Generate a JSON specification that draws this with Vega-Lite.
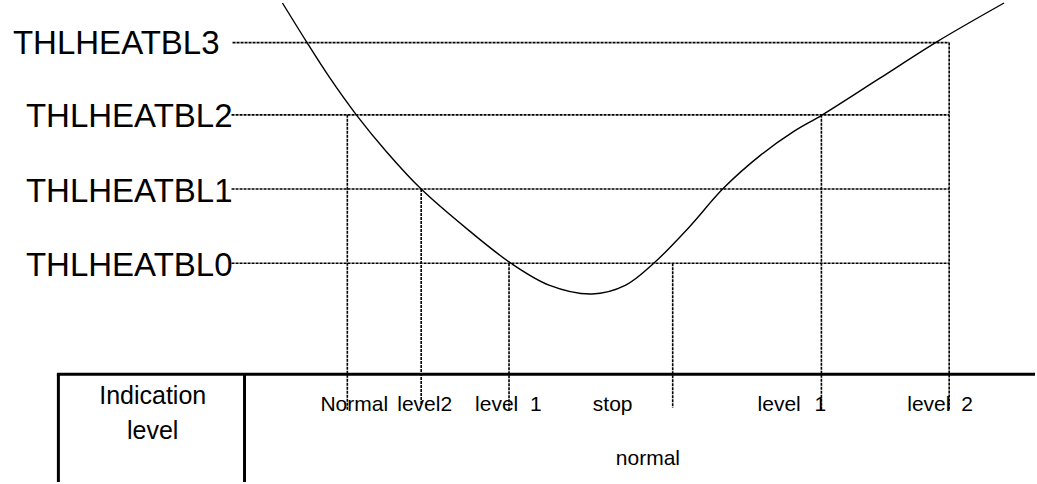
{
  "$schema": "https://vega.github.io/schema/vega-lite/v6.json",
  "width": 1037,
  "height": 484,
  "padding": 0,
  "autosize": {"type": "fit", "contains": "padding"},
  "background": "white",
  "config": {"view": {"stroke": null}, "axis": {"disable": true}},
  "datasets": {
    "curve": [
      {"x": 283, "y": 0}, {"x": 307, "y": 39}, {"x": 330, "y": 75}, {"x": 357, "y": 113},
      {"x": 387, "y": 150}, {"x": 422, "y": 188}, {"x": 470, "y": 230}, {"x": 512, "y": 263},
      {"x": 550, "y": 285}, {"x": 593, "y": 294}, {"x": 627, "y": 285}, {"x": 655, "y": 263},
      {"x": 690, "y": 227}, {"x": 725, "y": 187}, {"x": 763, "y": 153}, {"x": 795, "y": 130},
      {"x": 824, "y": 113}, {"x": 880, "y": 77}, {"x": 939, "y": 39}, {"x": 1006, "y": 0}
    ],
    "hlines": [
      {"level": "THLHEATBL3", "x": 233, "x2": 951, "y": 40},
      {"level": "THLHEATBL2", "x": 232, "x2": 951, "y": 113},
      {"level": "THLHEATBL1", "x": 232, "x2": 951, "y": 188},
      {"level": "THLHEATBL0", "x": 232, "x2": 951, "y": 263}
    ],
    "vlines": [
      {"x": 348, "y": 113, "y2": 412},
      {"x": 422, "y": 188, "y2": 406},
      {"x": 510, "y": 263, "y2": 412},
      {"x": 674, "y": 263, "y2": 409},
      {"x": 823, "y": 113, "y2": 412},
      {"x": 951, "y": 40, "y2": 412}
    ],
    "table": [
      {"x": 57, "x2": 1037, "y": 375, "y2": 375},
      {"x": 58.5, "x2": 58.5, "y": 375, "y2": 484},
      {"x": 245, "x2": 245, "y": 375, "y2": 484}
    ],
    "thl": [
      {"text": "THLHEATBL3", "x": 220, "y": 52},
      {"text": "THLHEATBL2", "x": 233, "y": 125},
      {"text": "THLHEATBL1", "x": 233, "y": 201},
      {"text": "THLHEATBL0", "x": 233, "y": 276}
    ],
    "cell": [
      {"text": "Indication", "x": 153, "y": 405},
      {"text": "level", "x": 153, "y": 441}
    ],
    "row": [
      {"text": "Normal", "x": 321, "y": 412},
      {"text": "level2", "x": 398, "y": 412},
      {"text": "level", "x": 476, "y": 412},
      {"text": "1", "x": 531, "y": 412},
      {"text": "stop", "x": 594, "y": 412},
      {"text": "level", "x": 759, "y": 412},
      {"text": "1", "x": 816, "y": 412},
      {"text": "level", "x": 909, "y": 412},
      {"text": "2", "x": 963, "y": 412},
      {"text": "normal", "x": 617, "y": 467}
    ]
  },
  "layer": [
    {
      "data": {"name": "hlines"},
      "mark": {"type": "rule", "stroke": "#000", "strokeWidth": 1.6, "strokeDash": [3, 1]},
      "encoding": {
        "x": {"field": "x", "type": "quantitative", "scale": {"domain": [0, 1037], "nice": false, "zero": false}, "axis": null},
        "x2": {"field": "x2"},
        "y": {"field": "y", "type": "quantitative", "scale": {"domain": [0, 484], "nice": false, "zero": false, "reverse": true}, "axis": null}
      }
    },
    {
      "data": {"name": "vlines"},
      "mark": {"type": "rule", "stroke": "#000", "strokeWidth": 1.6, "strokeDash": [3, 1]},
      "encoding": {
        "x": {"field": "x", "type": "quantitative"},
        "y": {"field": "y", "type": "quantitative"},
        "y2": {"field": "y2"}
      }
    },
    {
      "data": {"name": "curve"},
      "mark": {"type": "line", "stroke": "#000", "strokeWidth": 1.4, "interpolate": "catmull-rom"},
      "encoding": {
        "x": {"field": "x", "type": "quantitative"},
        "y": {"field": "y", "type": "quantitative"}
      }
    },
    {
      "data": {"name": "table"},
      "mark": {"type": "rule", "stroke": "#000", "strokeWidth": 3},
      "encoding": {
        "x": {"field": "x", "type": "quantitative"},
        "x2": {"field": "x2"},
        "y": {"field": "y", "type": "quantitative"},
        "y2": {"field": "y2"}
      }
    },
    {
      "data": {"name": "thl"},
      "mark": {"type": "text", "align": "right", "baseline": "alphabetic", "font": "Liberation Sans", "fontSize": 33, "color": "#000"},
      "encoding": {
        "x": {"field": "x", "type": "quantitative"},
        "y": {"field": "y", "type": "quantitative"},
        "text": {"field": "text"}
      }
    },
    {
      "data": {"name": "cell"},
      "mark": {"type": "text", "align": "center", "baseline": "alphabetic", "font": "Liberation Sans", "fontSize": 25, "color": "#000"},
      "encoding": {
        "x": {"field": "x", "type": "quantitative"},
        "y": {"field": "y", "type": "quantitative"},
        "text": {"field": "text"}
      }
    },
    {
      "data": {"name": "row"},
      "mark": {"type": "text", "align": "left", "baseline": "alphabetic", "font": "Liberation Sans", "fontSize": 21, "color": "#000"},
      "encoding": {
        "x": {"field": "x", "type": "quantitative"},
        "y": {"field": "y", "type": "quantitative"},
        "text": {"field": "text"}
      }
    }
  ]
}
